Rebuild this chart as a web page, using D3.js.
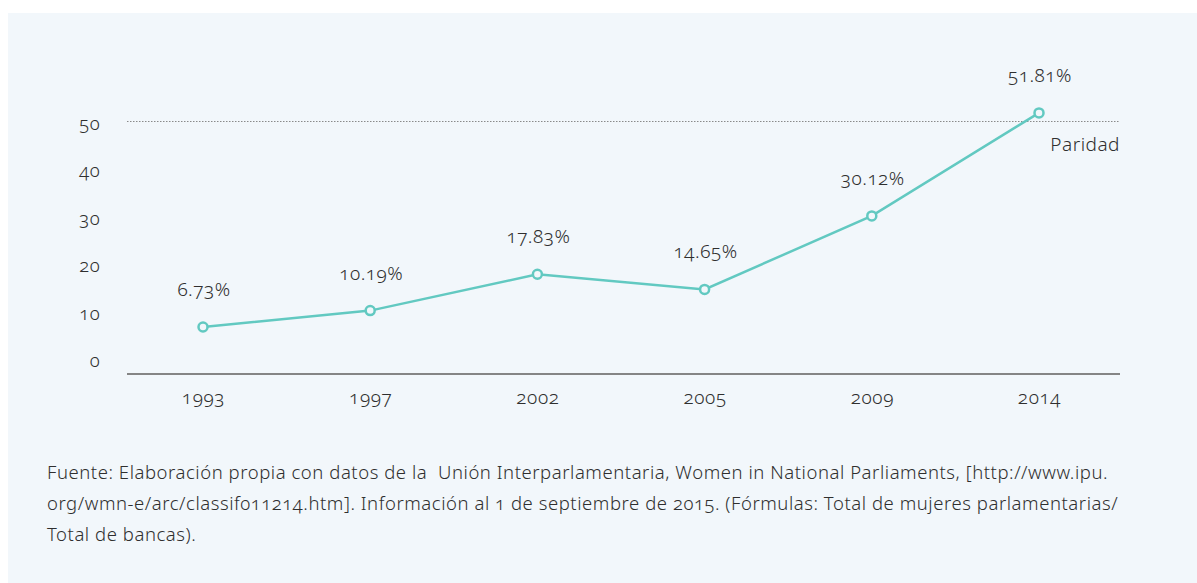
<!DOCTYPE html>
<html>
<head>
<meta charset="utf-8">
<script src="https://cdn.jsdelivr.net/npm/d3@7"></script>
<style>
  html, body { margin: 0; padding: 0; background: #ffffff; }
  svg { display: block; }
  text { font-family: "Noto Sans", "Open Sans", sans-serif; font-weight: 300; font-variant-numeric: oldstyle-nums; font-feature-settings: "onum" 1; fill: #2f2f2f; }
</style>
</head>
<body>
<svg id="chart" width="1197" height="583"></svg>
<script>
const years = ["1993", "1997", "2002", "2005", "2009", "2014"];
const values = [6.73, 10.19, 17.83, 14.65, 30.12, 51.81];
const valueLabels = ["6.73%", "10.19%", "17.83%", "14.65%", "30.12%", "51.81%"];
const yTicks = [0, 10, 20, 30, 40, 50];
const parityValue = 50;
const parityLabel = "Paridad";
const sourceLines = [
  "Fuente: Elaboración propia con datos de la  Unión Interparlamentaria, Women in National Parliaments, [http://www.ipu.",
  "org/wmn-e/arc/classif011214.htm]. Información al 1 de septiembre de 2015. (Fórmulas: Total de mujeres parlamentarias/",
  "Total de bancas)."
];

const svg = d3.select("#chart");
svg.append("rect").attr("x", 8).attr("y", 13).attr("width", 1189).attr("height", 570).attr("fill", "#f2f7fb");

const x = d3.scalePoint().domain(years).range([203, 1039]);
const y = d3.scaleLinear().domain([0, 50]).range([359, 121.5]);

const fontStack = "\"Noto Sans\", \"Open Sans\", sans-serif";

// y tick labels
const yAxis = d3.axisLeft(y).tickValues(yTicks).tickSize(0).tickPadding(0);
const gy = svg.append("g").attr("transform", "translate(100,2)").call(yAxis);
gy.select(".domain").remove();
gy.selectAll("text").attr("font-size", 18.5).attr("fill", "#2f2f2f")
  .style("font-family", fontStack).style("font-weight", 300).style("letter-spacing", "0.4px");

// parity dotted line
svg.append("line")
  .attr("x1", 127).attr("x2", 1120)
  .attr("y1", y(parityValue)).attr("y2", y(parityValue))
  .attr("stroke", "#8a8a8a").attr("stroke-width", 1).attr("stroke-dasharray", "1.5,1.5");
svg.append("text").attr("x", 1120).attr("y", y(parityValue) + 29)
  .attr("text-anchor", "end").attr("font-size", 19).style("letter-spacing", "0.5px").text(parityLabel);

// x axis
const xAxis = d3.axisBottom(x).tickSize(0).tickPadding(17);
const gx = svg.append("g").attr("transform", "translate(0,374)").call(xAxis);
gx.select(".domain").remove();
gx.selectAll("text").attr("font-size", 19).attr("fill", "#2f2f2f")
  .style("font-family", fontStack).style("font-weight", 300).style("letter-spacing", "0.6px");
svg.append("line").attr("x1", 127).attr("x2", 1120).attr("y1", 374).attr("y2", 374)
  .attr("stroke", "#858585").attr("stroke-width", 2);

// line
const line = d3.line().x((d, i) => x(years[i])).y(d => y(d));
svg.append("path").datum(values).attr("d", line)
  .attr("fill", "none").attr("stroke", "#62c9c1").attr("stroke-width", 2.5);

svg.selectAll("circle.pt").data(values).enter().append("circle")
  .attr("class", "pt")
  .attr("cx", (d, i) => x(years[i])).attr("cy", d => y(d)).attr("r", 4.5)
  .attr("fill", "#f2f7fb").attr("stroke", "#62c9c1").attr("stroke-width", 2.5);

svg.selectAll("text.vl").data(values).enter().append("text")
  .attr("class", "vl")
  .attr("x", (d, i) => x(years[i]) + 1).attr("y", d => y(d) - 31)
  .attr("text-anchor", "middle").attr("font-size", 19).style("letter-spacing", "0.5px")
  .text((d, i) => valueLabels[i]);

// source
svg.selectAll("text.src").data(sourceLines).enter().append("text")
  .attr("class", "src")
  .attr("x", 47).attr("y", (d, i) => 479 + i * 31)
  .attr("font-size", 18.5).attr("fill", "#333333")
  .style("white-space", "pre").style("letter-spacing", "0.55px")
  .text(d => d);
</script>
</body>
</html>
